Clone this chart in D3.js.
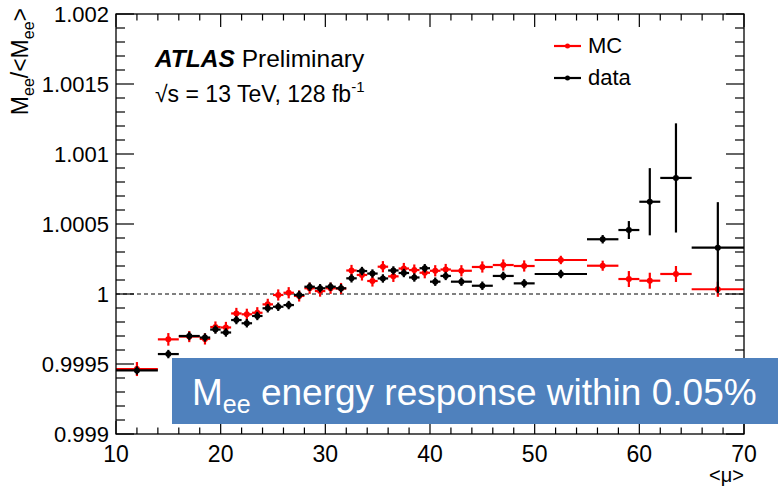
<!DOCTYPE html>
<html><head><meta charset="utf-8">
<script src="https://cdnjs.cloudflare.com/ajax/libs/d3/7.8.5/d3.min.js"></script>
<style>body{margin:0;background:#fff}svg{display:block}text{font-family:"Liberation Sans",Arial,sans-serif}</style>
</head><body><svg id="c" width="779" height="492"></svg>
<script>
// bins of <mu>
const binLo = [10,14,16,18,19,20,21,22,23,24,25,26,27,28,29,30,31,32,33,34,35,36,37,38,39,40,41,42,44,46,48,50,55,58,60,62,65];
const binHi = [14,16,18,19,20,21,22,23,24,25,26,27,28,29,30,31,32,33,34,35,36,37,38,39,40,41,42,44,46,48,50,55,58,60,62,65,70];
const mcVal = [0.999464,0.999676,0.999696,0.999679,0.999764,0.999761,0.999861,0.999855,0.999866,0.999926,0.999993,1.000009,0.999986,1.000041,1.000021,1.000041,1.000039,1.000168,1.000136,1.000093,1.000195,1.000126,1.000182,1.000171,1.000152,1.000166,1.000175,1.000166,1.000193,1.000207,1.000200,1.000243,1.000202,1.000107,1.000095,1.000143,1.000034];
const mcErr = [0.00005,0.000045,0.00004,0.00004,0.00004,0.00004,0.00004,0.00004,0.00004,0.00004,0.00004,0.00004,0.00004,0.00004,0.00004,0.00004,0.00004,0.00004,0.00004,0.00004,0.00004,0.00004,0.00004,0.00004,0.00004,0.00004,0.00004,0.00004,0.00004,0.00004,0.00004,0.00003,0.000036,0.000057,0.000057,0.000057,0.000054];
const dataVal = [0.999454,0.999571,0.999700,0.999689,0.999746,0.999725,0.999814,0.999791,0.999843,0.999898,0.999909,0.999921,0.999993,1.000052,1.000041,1.000052,1.000041,1.000112,1.000164,1.000146,1.000111,1.000168,1.000150,1.000118,1.000184,1.000088,1.000129,1.000088,1.000059,1.000129,1.000076,1.000143,1.000391,1.000457,1.000659,1.000829,1.000331];
const dataErr = [0.00003,0.00003,0.00003,0.00003,0.00003,0.00003,0.00003,0.00003,0.00003,0.00003,0.00003,0.00003,0.00003,0.00003,0.00003,0.00003,0.00003,0.00003,0.00003,0.00003,0.00003,0.00003,0.00003,0.00003,0.00003,0.00003,0.00003,0.00003,0.00003,0.00003,0.00003,0.00003,0.00003,0.000064,0.00024,0.00039,0.000325];
const xTicks = [10,20,30,40,50,60,70];
const yTicks = [0.999,0.9995,1,1.0005,1.001,1.0015,1.002];
const yTickLabels = ["0.999","0.9995","1","1.0005","1.001","1.0015","1.002"];

const svg = d3.select("#c");
const L=116,R=744,T=14,B=434;
const x = d3.scaleLinear().domain([10,70]).range([L,R]);
const y = d3.scaleLinear().domain([0.999,1.002]).range([B,T]);

// dashed line at 1
svg.append("line").attr("x1",L).attr("x2",R).attr("y1",y(1)).attr("y2",y(1))
  .attr("stroke","#000").attr("stroke-width",1).attr("stroke-dasharray","4,3");

function drawSeries(vals, errs, color){
  const g = svg.append("g");
  vals.forEach((v,i)=>{
    const xc = x((binLo[i]+binHi[i])/2);
    g.append("line").attr("x1",x(binLo[i])).attr("x2",x(binHi[i])).attr("y1",y(v)).attr("y2",y(v))
      .attr("stroke",color).attr("stroke-width",2.2);
    g.append("line").attr("x1",xc).attr("x2",xc).attr("y1",y(v-errs[i])).attr("y2",y(v+errs[i]))
      .attr("stroke",color).attr("stroke-width",2.2);
    g.append("circle").attr("cx",xc).attr("cy",y(v)).attr("r",3).attr("fill",color);
  });
}
drawSeries(mcVal, mcErr, "#ff0000");
drawSeries(dataVal, dataErr, "#000000");

// frame
svg.append("rect").attr("x",L).attr("y",T).attr("width",R-L).attr("height",B-T)
  .attr("fill","none").attr("stroke","#000").attr("stroke-width",1.3);

const minorX = d3.range(10,70.01,2);
const minorY = d3.range(0,31).map(k=>0.999+k*0.0001);
const tk = svg.append("g").attr("stroke","#000").attr("stroke-width",1.2);
minorX.forEach(v=>{
  const major = xTicks.some(t=>Math.abs(t-v)<1e-9);
  const len = major?13:6.5;
  tk.append("line").attr("x1",x(v)).attr("x2",x(v)).attr("y1",B).attr("y2",B-len);
  tk.append("line").attr("x1",x(v)).attr("x2",x(v)).attr("y1",T).attr("y2",T+len);
});
minorY.forEach(v=>{
  const major = yTicks.some(t=>Math.abs(t-v)<1e-9);
  const len = major?18:9;
  tk.append("line").attr("x1",L).attr("x2",L+len).attr("y1",y(v)).attr("y2",y(v));
  tk.append("line").attr("x1",R).attr("x2",R-len).attr("y1",y(v)).attr("y2",y(v));
});

// tick labels
xTicks.forEach(v=>{
  svg.append("text").attr("x",x(v)).attr("y",B+28).attr("text-anchor","middle")
    .attr("font-size",23).text(v);
});
yTicks.forEach((v,i)=>{
  svg.append("text").attr("x",L-7).attr("y",y(v)+8).attr("text-anchor","end")
    .attr("font-size",22).text(yTickLabels[i]);
});

// axis titles
svg.append("text").attr("x",R).attr("y",482).attr("text-anchor","end").attr("font-size",20).text("<μ>");
const yt = svg.append("text").attr("transform","translate(28,8) rotate(-90)").attr("text-anchor","end").attr("font-size",23);
yt.append("tspan").text("M");
yt.append("tspan").attr("font-size",16).attr("dy",6).text("ee");
yt.append("tspan").attr("dy",-6).text("/<M");
yt.append("tspan").attr("font-size",16).attr("dy",6).text("ee");
yt.append("tspan").attr("dy",-6).text(">");

// ATLAS label
const at = svg.append("text").attr("x",155).attr("y",67).attr("font-size",24.5);
at.append("tspan").attr("font-weight","bold").attr("font-style","italic").text("ATLAS");
at.append("tspan").text(" Preliminary");
const en = svg.append("text").attr("x",155).attr("y",102).attr("font-size",23);
en.append("tspan").text("√s = 13 TeV, 128 fb");
en.append("tspan").attr("font-size",15).attr("dy",-10).text("-1");

// legend
const leg = [["MC","#ff0000",46,53],["data","#000000",78,85]];
leg.forEach(([t,c,ly,ty])=>{
  svg.append("line").attr("x1",554).attr("x2",581).attr("y1",ly).attr("y2",ly).attr("stroke",c).attr("stroke-width",2.2);
  svg.append("circle").attr("cx",567.5).attr("cy",ly).attr("r",2.5).attr("fill",c);
  svg.append("text").attr("x",588).attr("y",ty).attr("font-size",22).text(t);
});

// blue annotation box
svg.append("rect").attr("x",172).attr("y",358).attr("width",606).attr("height",66).attr("fill","#4f81bd");
const bt = svg.append("text").attr("x",192).attr("y",405).attr("font-size",37).attr("fill","#fff");
bt.append("tspan").text("M");
bt.append("tspan").attr("font-size",25).attr("dy",8).text("ee");
bt.append("tspan").attr("dy",-8).text(" energy response within 0.05%");
</script></body></html>
